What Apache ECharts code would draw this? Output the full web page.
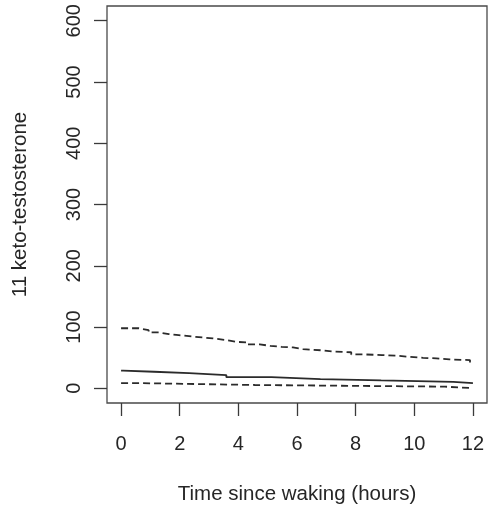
<!DOCTYPE html>
<html>
<head>
<meta charset="utf-8">
<script src="https://cdn.jsdelivr.net/npm/echarts@6/dist/echarts.min.js"></script>
<style>
html,body{margin:0;padding:0;background:#fff;}
#c{width:488px;height:513px;}
</style>
</head>
<body>
<div id="c"></div>
<script>
// Tick labels
var xTicks = [0, 2, 4, 6, 8, 10, 12];
var yTicks = [0, 100, 200, 300, 400, 500, 600];

// Estimate (solid, step line): hours where value changes, and values
var estHours  = [0, 0.07, 1.12, 2.32, 3.59, 5.13, 6.8, 8.87, 11.33, 12];
var estValues = [29, 27, 24.6, 21.6, 18.2, 15.1, 12.8, 10.5, 8.4, 8.4];

// Upper bound (dashed)
var upHours  = [0, 0.6, 0.94, 1.29, 1.63, 1.97, 2.4, 2.77, 3.13, 3.53, 3.91, 4.27, 4.73, 5.09, 5.47, 5.86, 6.2, 6.9, 7.2, 7.85, 8.3, 8.9, 9.4, 9.85, 10.3, 10.75, 11.2, 11.9, 12];
var upValues = [98, 94.9, 91.2, 88.4, 86.8, 84.6, 83, 81.4, 79.1, 75.9, 74.9, 71.6, 69.3, 67.7, 66.7, 64, 61.8, 60.2, 58.8, 55.3, 54.2, 53.1, 51.4, 49.8, 48.8, 47.2, 46, 41.5, 41.5];

// Lower bound (dashed)
var loHours  = [0, 0.71, 4.56, 11.04, 12];
var loValues = [8.4, 5.4, 2.7, 0.2, 0.2];

function zip(a, b) { return a.map(function (v, i) { return [v, b[i]]; }); }

var font = 'Liberation Sans, Arial, sans-serif';
var txt = '#262626';
var lineCol = '#2b2b2b';

var chart = echarts.init(document.getElementById('c'), null, {renderer: 'canvas'});
chart.setOption({
  animation: false,
  backgroundColor: '#fff',
  grid: {
    left: 107, right: 1, top: 6, bottom: 110,
    show: true, borderColor: '#4a4a4a', borderWidth: 1.3,
    containLabel: false, outerBoundsMode: 'none'
  },
  xAxis: {
    type: 'value', min: -0.48, max: 12.48,
    name: 'Time since waking (hours)', nameLocation: 'middle', nameGap: 81,
    nameTextStyle: {fontFamily: font, fontSize: 20.5, color: txt},
    axisLine: {show: false, onZero: false},
    splitLine: {show: false},
    axisTick: {show: true, inside: false, length: 13, customValues: xTicks, lineStyle: {color: '#3a3a3a', width: 1.3}},
    axisLabel: {customValues: xTicks, margin: 31, fontFamily: font, fontSize: 20, color: txt}
  },
  yAxis: {
    type: 'value', min: -24, max: 624,
    name: '11 keto-testosterone', nameLocation: 'middle', nameGap: 76,
    nameTextStyle: {fontFamily: font, fontSize: 20.5, color: txt},
    axisLine: {show: false, onZero: false},
    splitLine: {show: false},
    axisTick: {show: true, inside: false, length: 13, customValues: yTicks, lineStyle: {color: '#3a3a3a', width: 1.3}},
    axisLabel: {customValues: yTicks, rotate: 90, margin: 23, fontFamily: font, fontSize: 20, color: txt}
  },
  series: [
    {
      type: 'line', step: 'end', showSymbol: false, silent: true,
      data: zip(estHours, estValues),
      lineStyle: {color: lineCol, width: 1.8, type: 'solid'}
    },
    {
      type: 'line', step: 'end', showSymbol: false, silent: true,
      data: zip(upHours, upValues),
      lineStyle: {color: lineCol, width: 1.8, type: [7, 4]}
    },
    {
      type: 'line', step: 'end', showSymbol: false, silent: true,
      data: zip(loHours, loValues),
      lineStyle: {color: lineCol, width: 1.8, type: [7, 4]}
    }
  ]
});
</script>
</body>
</html>
